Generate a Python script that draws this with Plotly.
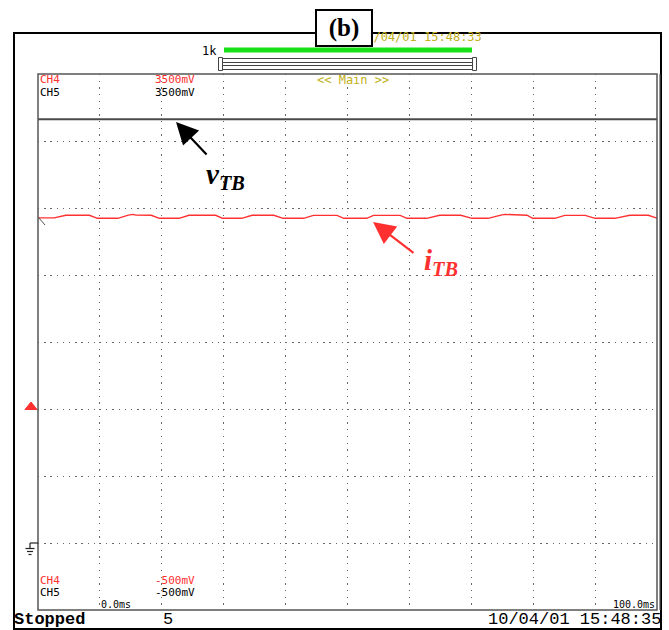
import plotly.graph_objects as go

# ---- recorded traces (time in ms, level in mV) ----
ch4_t = [0.0, 2.6, 4.5, 8.3, 9.6, 12.9, 14.6, 15.4, 15.8, 18.3, 19.6, 22.8, 24.4, 28.7,
         29.8, 32.9, 34.6, 38.1, 39.6, 42.9, 44.5, 48.3, 49.4, 53.1, 54.2, 58.5, 59.6,
         62.8, 64.9, 68.3, 70.1, 72.7, 74.8, 75.4, 79.0, 79.9, 83.5, 85.1, 88.4, 90.0,
         93.2, 95.6, 98.6, 100.0]
ch4_mv = [2426, 2426, 2446, 2446, 2423, 2423, 2447, 2452, 2447, 2446, 2423, 2423, 2446, 2446,
          2423, 2423, 2446, 2446, 2423, 2423, 2445, 2445, 2423, 2423, 2445, 2445, 2423,
          2423, 2446, 2446, 2423, 2423, 2447, 2452, 2446, 2423, 2423, 2445, 2445, 2423,
          2423, 2446, 2446, 2424]

ch5_t = [0, 10, 20, 30, 40, 50, 60, 70, 80, 90, 100]
ch5_mv = [3162, 3162, 3162, 3162, 3162, 3162, 3162, 3162, 3162, 3162, 3162]

x_divs = [10, 20, 30, 40, 50, 60, 70, 80, 90]
y_divs = [0, 500, 1000, 1500, 2000, 2500, 3000]
y_range = [-500, 3500]
x_range = [0, 100]

# ---- screen geometry of the graticule ----
W, H = 669, 630
PL, PT, PW, PH = 38, 74, 619, 536


def px(x):
    return (x - PL) / PW


def py(y):
    return (PT + PH - y) / PH


RED = "#ff3030"
YEL = "#c2b020"
MONO = "DejaVu Sans Mono"

fig = go.Figure()
fig.add_trace(go.Scatter(x=ch5_t, y=ch5_mv, mode="lines",
                         line=dict(color="#4a4a4a", width=2), hoverinfo="skip"))
fig.add_trace(go.Scatter(x=ch4_t, y=ch4_mv, mode="lines",
                         line=dict(color=RED, width=1.4), hoverinfo="skip"))

shapes = []


def rect(x0, y0, x1, y1, color="black", width=1, fill=None):
    shapes.append(dict(type="rect", xref="paper", yref="paper",
                       x0=px(x0), x1=px(x1), y0=py(y1), y1=py(y0),
                       line=dict(color=color, width=width),
                       fillcolor=fill if fill else "rgba(0,0,0,0)", layer="above"))


def seg(x0, y0, x1, y1, color="black", width=1):
    shapes.append(dict(type="line", xref="paper", yref="paper",
                       x0=px(x0), x1=px(x1), y0=py(y0), y1=py(y1),
                       line=dict(color=color, width=width), layer="above"))


# outer frame and graticule box
rect(14, 33, 661, 629, color="black", width=2)
rect(PL, PT, PL + PW, PT + PH, color="#555555", width=1.5)
seg(660, 74, 660, 610, color="#555555", width=1.2)

# memory bar
rect(224, 47.5, 472, 52.5, color="#18e018", width=0, fill="#18e018")
rect(218.5, 57.5, 222.5, 70.5, color="#444444", width=1)
rect(472.5, 57.5, 476.5, 70.5, color="#444444", width=1)
rect(222.5, 58.5, 472.5, 62.5, color="#444444", width=1)
rect(222.5, 65.5, 472.5, 69.5, color="#444444", width=1)

# CH4 offset marker
shapes.append(dict(type="path", xref="paper", yref="paper",
                   path="M {a},{b} L {c},{b} L {d},{e} Z".format(
                       a=px(25), b=py(409.5), c=px(37), d=px(31), e=py(402)),
                   fillcolor=RED, line=dict(color=RED, width=1), layer="above"))

# ground symbol
seg(30, 543, 38, 543, color="#222222", width=1.2)
seg(30, 543, 30, 548, color="#222222", width=1.2)
seg(25.5, 548.5, 34.5, 548.5, color="#222222", width=1.2)
seg(27, 551.5, 33, 551.5, color="#222222", width=1.2)
seg(28.5, 554.5, 31.5, 554.5, color="#222222", width=1.2)

# small trigger tick at the left edge
seg(39, 218, 45, 225, color="#555555", width=1)

annotations = []


def label(x, y, text, color="black", size=11, family=MONO, xanchor="left", bold=False):
    annotations.append(dict(xref="paper", yref="paper", x=px(x), y=py(y),
                            text=("<b>%s</b>" % text) if bold else text,
                            showarrow=False, xanchor=xanchor, yanchor="middle",
                            borderpad=0,
                            font=dict(color=color, size=size, family=family)))


label(39, 80, "CH4", RED)
label(154, 80, "3500mV", RED)
label(39, 92, "CH5")
label(154, 92, "3500mV")
label(316, 80, "&lt;&lt; Main &gt;&gt;", YEL, size=12)
label(39, 580, "CH4", RED)
label(154, 580, "-500mV", RED)
label(39, 592, "CH5")
label(154, 592, "-500mV")
label(100, 604, "0.0ms", size=10)
label(656, 604, "100.0ms", size=10, xanchor="right")
label(201, 51, "1k", size=12)
label(358, 37, "10/04/01 15:48:33", YEL, size=12)

label(13, 620, "Stopped", size=17, family="Liberation Mono", bold=True)
label(162, 620, "5", size=17, family="Liberation Mono")
label(662, 620, "10/04/01 15:48:35", size=17, family="Liberation Mono", xanchor="right")

# panel tag box
annotations.append(dict(xref="paper", yref="paper", x=px(344), y=py(27.5),
                        text="<b>(b)</b>", showarrow=False,
                        xanchor="center", yanchor="middle",
                        width=54, height=34, bgcolor="white",
                        bordercolor="black", borderwidth=2, borderpad=0,
                        font=dict(color="black", size=25, family="Liberation Serif")))

# trace callouts
annotations.append(dict(xref="paper", yref="paper", x=px(176), y=py(122),
                        ax=32, ay=34, text="", showarrow=True, arrowhead=2,
                        arrowsize=2.0, arrowwidth=2.2, arrowcolor="black", standoff=0))
annotations.append(dict(xref="paper", yref="paper", x=px(373), y=py(222),
                        ax=42, ay=32, text="", showarrow=True, arrowhead=2,
                        arrowsize=2.0, arrowwidth=2.2, arrowcolor=RED, standoff=0))
annotations.append(dict(xref="paper", yref="paper", x=px(204), y=py(176),
                        text="<b><i>v<sub>TB</sub></i></b>", showarrow=False,
                        xanchor="left", yanchor="middle",
                        font=dict(color="black", size=29, family="Liberation Serif")))
annotations.append(dict(xref="paper", yref="paper", x=px(422), y=py(262),
                        text="<b><i>i<sub>TB</sub></i></b>", showarrow=False,
                        xanchor="left", yanchor="middle",
                        font=dict(color=RED, size=29, family="Liberation Serif")))

fig.update_layout(
    width=W, height=H, autosize=False,
    margin=dict(l=PL, r=W - PL - PW, t=PT, b=H - PT - PH, pad=0),
    paper_bgcolor="white", plot_bgcolor="white",
    showlegend=False,
    shapes=shapes, annotations=annotations,
    xaxis=dict(range=x_range, tickmode="array", tickvals=x_divs,
               showticklabels=False, ticks="", showgrid=True,
               gridcolor="#666666", gridwidth=1.3, griddash="1.3px,5.4px",
               zeroline=False, showline=False, fixedrange=True),
    yaxis=dict(range=y_range, tickmode="array", tickvals=y_divs,
               showticklabels=False, ticks="", showgrid=True,
               gridcolor="#666666", gridwidth=1.3, griddash="1.3px,4.9px",
               zeroline=False, showline=False, fixedrange=True),
)

fig.write_html("out.html")
